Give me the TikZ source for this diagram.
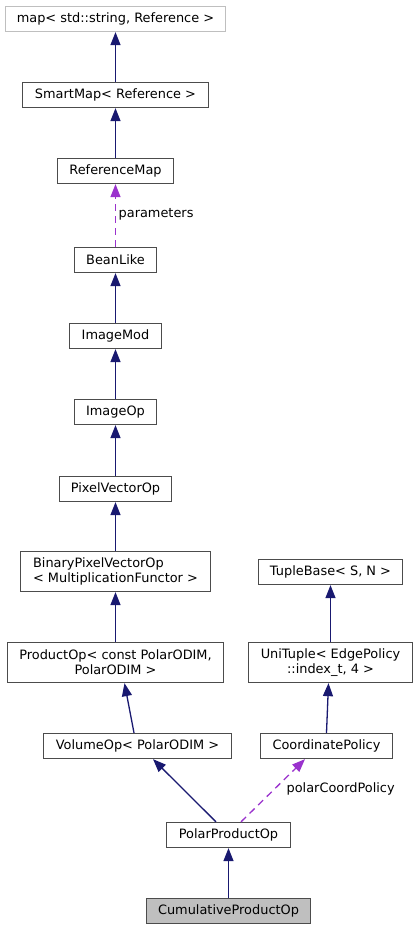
\documentclass[tikz,border=0pt]{standalone}
\usepackage{fontspec}
\setmainfont{DejaVu Sans}
\usetikzlibrary{arrows.meta}
\definecolor{edgeblue}{HTML}{191970}
\definecolor{edgepurple}{HTML}{9A32CD}

\begin{document}
\begin{tikzpicture}
  [x=1pt,y=-1pt,font=\fontsize{12.9}{15}\selectfont,
   every node/.style={draw=black!70,line width=1.3pt,fill=white,minimum height=25pt,inner sep=0pt,align=center},
   inh/.style={draw=edgeblue,line width=1.3pt,-{Triangle[length=13pt,width=10pt]}},
   use/.style={draw=edgepurple,line width=1.3pt,dash pattern=on 7pt off 5pt,-{Triangle[length=13pt,width=10pt]}},
   lbl/.style={draw=none,fill=none,anchor=west,minimum height=0pt}]
  \useasboundingbox (0,0) rectangle (417,929);

  \node[draw=black!25,minimum width=220pt] (1) at (115.5,19) {map< std::string, Reference >};
  \node[minimum width=186pt] (2) at (115.5,95) {SmartMap< Reference >};
  \node[minimum width=116pt] (3) at (115.5,171) {ReferenceMap};
  \node[minimum width=82pt] (4) at (115.5,260) {BeanLike};
  \node[minimum width=92pt] (5) at (115.5,336) {ImageMod};
  \node[minimum width=82pt] (6) at (115.5,412) {ImageOp};
  \node[minimum width=112pt] (7) at (115.5,489) {PixelVectorOp};
  \node[minimum width=190pt,minimum height=40pt,align=left] (8) at (115.5,571.5) {BinaryPixelVectorOp\\< MultiplicationFunctor >};
  \node[minimum width=216pt,minimum height=40pt] (9) at (115.5,662.5) {ProductOp< const PolarODIM,\\PolarODIM >};
  \node[minimum width=188pt] (10) at (137.5,746) {VolumeOp< PolarODIM >};
  \node[minimum width=124pt] (11) at (228.5,835) {PolarProductOp};
  \node[minimum width=164pt,fill=black!25] (12) at (228.5,911) {CumulativeProductOp};
  \node[minimum width=144pt] (13) at (330.5,572) {TupleBase< S, N >};
  \node[minimum width=164pt,minimum height=40pt] (14) at (330.5,662.5) {UniTuple< EdgePolicy\\::index\_t, 4 >};
  \node[minimum width=132pt] (15) at (326.5,746) {CoordinatePolicy};

  \foreach \from/\to in {2/1,3/2,5/4,6/5,7/6,8/7,9/8,14/13,12/11}
    \draw[inh] (\from.north) -- (\to.south);
  \draw[inh] ([xshift=-3.5pt]10.north) -- ([xshift=9pt]9.south);
  \draw[inh] ([xshift=-12.5pt]11.north) -- ([xshift=15.5pt]10.south);
  \draw[inh] (15.north) -- ([xshift=-2pt]14.south);

  \draw[use] (4.north) -- (3.south);
  \draw[use] ([xshift=12.5pt]11.north) -- ([xshift=-21.5pt]15.south);
  \node[lbl] (p) at (118,214) {parameters};
  \node[lbl] (q) at (286,789) {polarCoordPolicy};

\end{tikzpicture}
\end{document}
